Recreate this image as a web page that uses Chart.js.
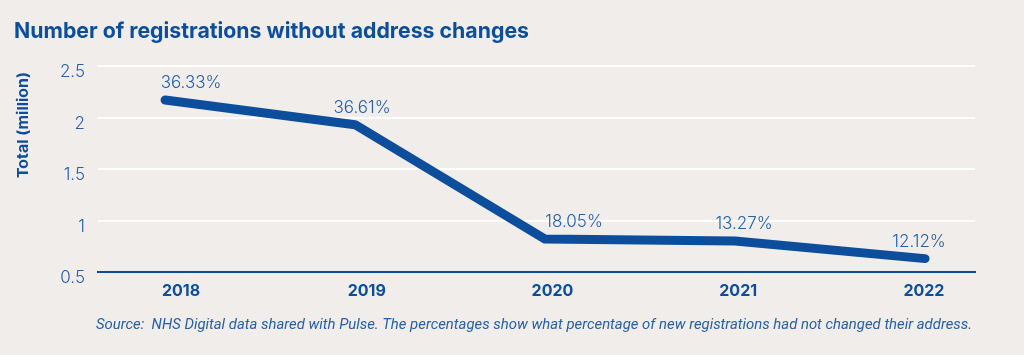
<!DOCTYPE html>
<html><head><meta charset="utf-8">
<script src="https://cdn.jsdelivr.net/npm/chart.js@4/dist/chart.umd.min.js"></script>
<style>html,body{margin:0;padding:0;background:#f0edeb;} #wrap{width:1024px;height:355px;position:relative;}</style>
</head><body><div id="wrap"><canvas id="c"></canvas></div>
<script>
const categories = ['2018','2019','2020','2021','2022'];
const totals = [2.17, 1.93, 0.82, 0.80, 0.63];
const percentLabels = ['36.33%','36.61%','18.05%','13.27%','12.12%'];
const yTicks = [0.5, 1, 1.5, 2, 2.5];
const titleText = 'Number of registrations without address changes';
const yTitleText = 'Total (million)';
const sourceText = 'Source:  NHS Digital data shared with Pulse. The percentages show what percentage of new registrations had not changed their address.';

const BLUE = '#0c4e9c';
const LBLUE = '#2560aa';

function fitText(ctx, text, x, y, width, font, color) {
  ctx.save();
  ctx.font = font;
  ctx.fillStyle = color;
  ctx.textBaseline = 'middle';
  ctx.textAlign = 'left';
  const w = ctx.measureText(text).width;
  const s = width / w;
  ctx.translate(x, y);
  ctx.scale(s, 1);
  ctx.fillText(text, 0, 0);
  ctx.restore();
}

const textPlugin = {
  id: 'texts',
  afterDatasetsDraw(chart, args, opts) {
    const ctx = chart.ctx;
    const meta = chart.getDatasetMeta(0);
    ctx.save();
    ctx.font = '300 17px Inter';
    ctx.fillStyle = LBLUE;
    ctx.textAlign = 'center';
    ctx.textBaseline = 'middle';
    meta.data.forEach((pt, i) => {
      ctx.fillText(percentLabels[i], pt.x + opts.dx[i], pt.y - 17);
    });
    ctx.restore();
  },
  afterDraw(chart) {
    const ctx = chart.ctx;
    fitText(ctx, titleText, 14, 31, 515, 'bold 22px Inter', BLUE);
    fitText(ctx, sourceText, 96, 325, 876, 'italic 14px Roboto', LBLUE);
    ctx.save();
    ctx.translate(23, 125);
    ctx.rotate(-Math.PI / 2);
    fitText(ctx, yTitleText, -53, 0, 106, 'bold 15px Inter', BLUE);
    ctx.restore();
  }
};

new Chart(document.getElementById('c'), {
  type: 'line',
  data: {
    datasets: [{
      data: totals.map((v, i) => ({x: i, y: v})),
      borderColor: BLUE,
      borderWidth: 9,
      pointRadius: 0,
      borderCapStyle: 'round',
      borderJoinStyle: 'round',
      tension: 0,
      clip: false
    }]
  },
  options: {
    responsive: true,
    maintainAspectRatio: false,
    animation: false,
    layout: {padding: {top: 66, right: 49, left: 0, bottom: 0}},
    plugins: {
      legend: {display: false},
      tooltip: {enabled: false},
      texts: {dx: [26, 7, 29, 9, -6]}
    },
    scales: {
      x: {
        type: 'linear', min: -0.353, max: 4.263, display: false
      },
      xl: {
        type: 'linear', position: 'bottom', min: -0.447, max: 4.275,
        afterBuildTicks: (axis) => { axis.ticks = categories.map((c, i) => ({value: i})); },
        afterFit: (axis) => { axis.height = 83; },
        grid: {display: false, drawTicks: false},
        border: {display: true, color: BLUE, width: 2},
        ticks: {
          callback: (v) => categories[v],
          font: {family: 'Inter', size: 16, weight: 'bold'},
          color: BLUE, padding: 10, maxRotation: 0, autoSkip: false
        }
      },
      y: {
        min: 0.5, max: 2.5,
        afterBuildTicks: (axis) => { axis.ticks = yTicks.map(v => ({value: v})); },
        afterFit: (axis) => { axis.width = 98; },
        grid: {
          color: (c) => c.tick && c.tick.value === 0.5 ? 'rgba(0,0,0,0)' : '#ffffff',
          lineWidth: 2, drawTicks: false
        },
        border: {display: false},
        ticks: {
          font: {family: 'Inter', size: 17, weight: '300'},
          color: LBLUE, padding: 13, labelOffset: 6,
          callback: (v) => String(v)
        }
      }
    }
  },
  plugins: [textPlugin]
});
</script>
</body></html>
